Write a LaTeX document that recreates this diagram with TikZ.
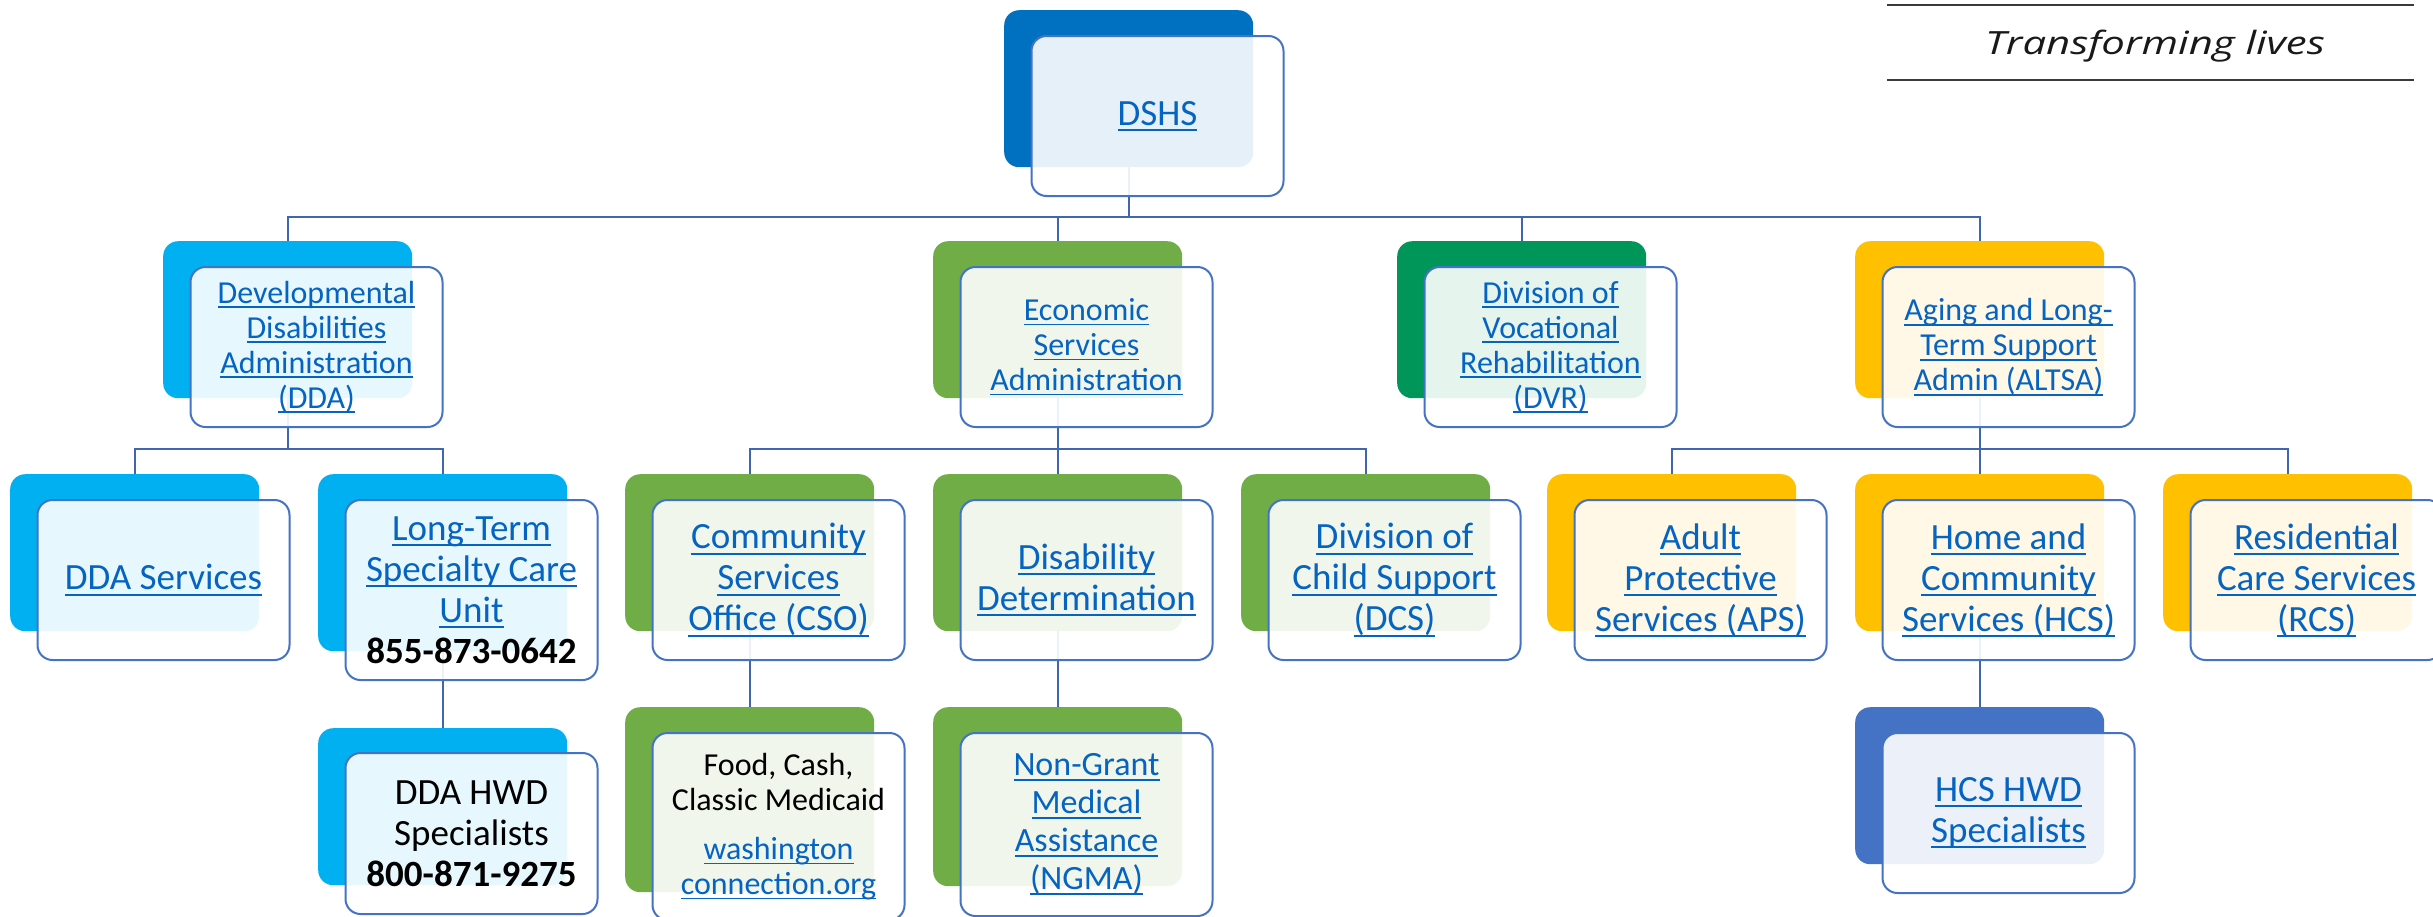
\documentclass[tikz,border=0pt]{standalone}
\usepackage{fontspec}
\usepackage{graphicx}
\setmainfont{Carlito}
\newfontfamily\tagfont{Open Sans}
\usetikzlibrary{backgrounds}
\definecolor{lnkblue}{HTML}{0563C1}
\definecolor{edgeblue}{HTML}{4472C4}
\definecolor{connblue}{HTML}{4066B0}
\definecolor{cDSHS}{HTML}{0070C0}
\definecolor{cDDA}{HTML}{00B0F0}
\definecolor{cESA}{HTML}{70AD47}
\definecolor{cDVR}{HTML}{00965A}
\definecolor{cALT}{HTML}{FFC000}
\definecolor{cHWD}{HTML}{4472C4}
\definecolor{tagline}{HTML}{3A3A3A}
\newcommand\lnk[1]{{\setbox0\hbox{#1}\rlap{\rule[-0.15em]{\wd0}{0.05em}}\box0}}
\newcommand\blk[1]{\textcolor{black}{#1}}
\begin{document}
\begin{tikzpicture}[x=1pt,y=-1pt,
  backbox/.style={rectangle,rounded corners=15pt,fill=#1,draw=none,anchor=north west,
    minimum width=249pt,minimum height=157pt,inner sep=0pt},
  frontbox/.style={rectangle,rounded corners=15pt,fill=white,fill opacity=0.9,text opacity=1,
    draw=edgeblue,line width=2pt,anchor=north west,minimum width=252pt,minimum height=160pt,
    inner sep=0pt,align=center,text=lnkblue},
  lvA/.style={font=\fontsize{32}{35}\selectfont},
  lvB/.style={font=\fontsize{37}{41}\selectfont},
  lvC/.style={font=\fontsize{34}{38}\selectfont},
  conn/.style={draw=connblue,line width=2.2pt},
  tagrule/.style={draw=tagline,line width=2pt},
]
\useasboundingbox (0,0) rectangle (2433,916);

% level 1
\node[backbox=cDSHS] (dshsB) at (1004,10) {};
\node[frontbox,lvB] (dshs) at (1030.5,35) {\lnk{DSHS}};

% level 2
\node[backbox=cDDA] (ddaB) at (163,241) {};
\node[frontbox,lvA] (dda) at (189.5,266) {\lnk{Developmental}\\\lnk{Disabilities}\\\lnk{Administration}\\\lnk{(DDA)}};
\node[backbox=cESA] (esaB) at (933,241) {};
\node[frontbox,lvA] (esa) at (959.5,266) {\lnk{Economic}\\\lnk{Services}\\\lnk{Administration}};
\node[backbox=cDVR] (dvrB) at (1397,241) {};
\node[frontbox,lvA] (dvr) at (1423.5,266) {\lnk{Division of}\\\lnk{Vocational}\\\lnk{Rehabilitation}\\\lnk{(DVR)}};
\node[backbox=cALT] (altB) at (1855,241) {};
\node[frontbox,lvA] (alt) at (1881.5,266) {\lnk{Aging and Long-}\\\lnk{Term Support}\\\lnk{Admin (ALTSA)}};

% level 3
\node[backbox=cDDA] (ddasB) at (10,474) {};
\node[frontbox,lvB] (ddas) at (36.5,499) {\lnk{DDA Services}};
\node[backbox=cDDA,minimum height=177pt] (ltB) at (318,474) {};
\node[frontbox,lvB,minimum height=180pt] (lt) at (344.5,499) {\lnk{Long-Term}\\\lnk{Specialty Care}\\\lnk{Unit}\\\blk{\textbf{855-873-0642}}};
\node[backbox=cESA] (csoB) at (625,474) {};
\node[frontbox,lvB] (cso) at (651.5,499) {\lnk{Community}\\\lnk{Services}\\\lnk{Office (CSO)}};
\node[backbox=cESA] (ddB) at (933,474) {};
\node[frontbox,lvB] (dd) at (959.5,499) {\lnk{Disability}\\\lnk{Determination}};
\node[backbox=cESA] (dcsB) at (1241,474) {};
\node[frontbox,lvB] (dcs) at (1267.5,499) {\lnk{Division of}\\\lnk{Child Support}\\\lnk{(DCS)}};
\node[backbox=cALT] (apsB) at (1547,474) {};
\node[frontbox,lvB] (aps) at (1573.5,499) {\lnk{Adult}\\\lnk{Protective}\\\lnk{Services (APS)}};
\node[backbox=cALT] (hcsB) at (1855,474) {};
\node[frontbox,lvB] (hcs) at (1881.5,499) {\lnk{Home and}\\\lnk{Community}\\\lnk{Services (HCS)}};
\node[backbox=cALT] (rcsB) at (2163,474) {};
\node[frontbox,lvB] (rcs) at (2189.5,499) {\lnk{Residential}\\\lnk{Care Services}\\\lnk{(RCS)}};

% level 4
\node[backbox=cDDA] (hwdB) at (318,728) {};
\node[frontbox,lvB,minimum height=161pt] (hwd) at (344.5,752) {\blk{DDA HWD}\\\blk{Specialists}\\\blk{\textbf{800-871-9275}}};
\node[backbox=cESA,minimum height=185pt] (foodB) at (625,707) {};
\node[frontbox,lvA,minimum height=187pt] (food) at (651.5,732) {\blk{Food, Cash,}\\\blk{Classic Medicaid}\\[14pt]\lnk{washington}\\\lnk{connection.org}};
\node[backbox=cESA,minimum height=179pt] (ngmaB) at (933,707) {};
\node[frontbox,lvC,minimum height=183pt] (ngma) at (959.5,732) {\lnk{Non-Grant}\\\lnk{Medical}\\\lnk{Assistance}\\\lnk{(NGMA)}};
\node[backbox=cHWD] (hhwdB) at (1855,707) {};
\node[frontbox,lvB] (hhwd) at (1881.5,732) {\lnk{HCS HWD}\\\lnk{Specialists}};

% connectors
\begin{scope}[on background layer]
\coordinate (busA) at (0,217);
\coordinate (busB) at (0,449);
\foreach \c in {ddaB,esaB,dvrB,altB}
  \draw[conn] (dshsB.south) -- (dshsB.south |- busA) -| (\c.north);
\foreach \c in {ddasB,ltB}
  \draw[conn] (ddaB.south) -- (ddaB.south |- busB) -| (\c.north);
\foreach \c in {csoB,ddB,dcsB}
  \draw[conn] (esaB.south) -- (esaB.south |- busB) -| (\c.north);
\foreach \c in {apsB,hcsB,rcsB}
  \draw[conn] (altB.south) -- (altB.south |- busB) -| (\c.north);
\draw[conn] (ltB.south) -- (hwdB.north);
\draw[conn] (csoB.south) -- (foodB.north);
\draw[conn] (ddB.south) -- (ngmaB.north);
\draw[conn] (hcsB.south) -- (hhwdB.north);
\end{scope}

% tagline
\coordinate (tagTL) at (1887,5);
\coordinate (tagTR) at (2414,5);
\coordinate (tagBL) at (1887,80);
\coordinate (tagBR) at (2414,80);
\draw[tagrule] (tagTL) -- (tagTR);
\draw[tagrule] (tagBL) -- (tagBR);
\node[anchor=base,text=black!90,font=\tagfont\itshape\fontsize{32}{38}\selectfont] (tag) at (2155,54) {\scalebox{1.31}[1]{Transforming lives}};
\end{tikzpicture}
\end{document}
